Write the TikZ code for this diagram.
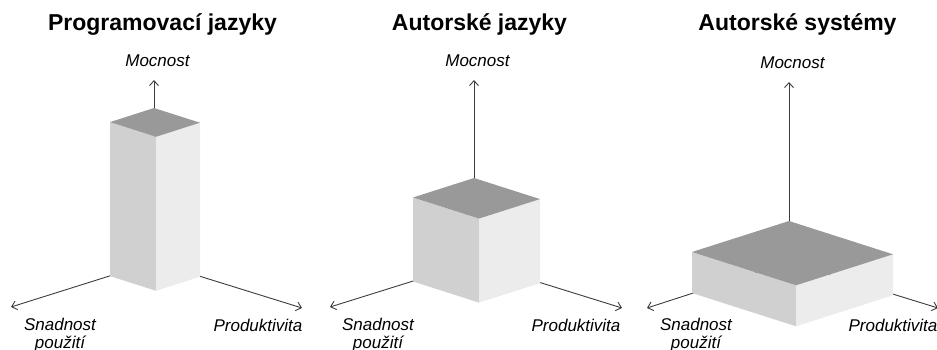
\documentclass[tikz,border=0pt]{standalone}
\usepackage{fontspec}
\setmainfont{Liberation Sans}
\usepackage{tikz}
\usetikzlibrary{arrows.meta,positioning}
\usepackage{xcolor}
\definecolor{AxisGray}{RGB}{60,60,60}
\definecolor{TopGray}{RGB}{153,153,153}
\definecolor{SideGray}{RGB}{208,208,208}
\definecolor{FrontGray}{RGB}{236,236,236}
\tikzset{
  axisline/.style={draw=AxisGray, line width=0.9pt,
    -{Straight Barb[length=5pt,width=9pt]}},
  topface/.style={fill=TopGray},
  leftface/.style={fill=SideGray},
  rightface/.style={fill=FrontGray},
  title/.style={font=\fontsize{23}{27}\selectfont\bfseries, anchor=base,
    inner sep=0pt},
  axislabel/.style={font=\fontsize{17}{18}\selectfont\itshape, align=center,
    anchor=base, inner sep=0pt}
}

\begin{document}
\begin{tikzpicture}[x=1pt,y=-1pt]
  \useasboundingbox (0,0) rectangle (937,350);

  \node[title] (title1) at (162.5,31) {Programovací jazyky};
  \node[title] (title2) at (479.5,31) {Autorské jazyky};
  \node[title] (title3) at (797.5,31) {Autorské systémy};

  \coordinate (o1) at (154,262);
  \coordinate (m1) at (154,80);
  \coordinate (s1) at (11,307);
  \coordinate (p1) at (302,308);
  \coordinate (t1) at (154,108);
  \draw[axisline] (o1) -- (m1);
  \draw[axisline] (o1) -- (s1);
  \draw[axisline] (o1) -- (p1);
  \fill[leftface] (t1) ++(-44,14.1) -- ++(46,14.7) -- ++(0,154) -- ++(-46,-14.7) -- cycle;
  \fill[rightface] (t1) ++(46,14.7) -- ++(-44,14.1) -- ++(0,154) -- ++(44,-14.1) -- cycle;
  \fill[topface] (t1) -- ++(-44,14.1) -- ++(46,14.7) -- ++(44,-14.1) -- cycle;
  \node[axislabel, above=13pt of m1, xshift=3.5pt] (moc1) {Mocnost};
  \node[axislabel] (snad1) at (60,348) {Snadnost\\použití};
  \node[axislabel] (prod1) at (258,331) {Produktivita};

  \coordinate (o2) at (474,262);
  \coordinate (m2) at (474,80);
  \coordinate (s2) at (330,307);
  \coordinate (p2) at (622,308);
  \coordinate (t2) at (474,178);
  \draw[axisline] (o2) -- (m2);
  \draw[axisline] (o2) -- (s2);
  \draw[axisline] (o2) -- (p2);
  \fill[leftface] (t2) ++(-61,19.5) -- ++(66,21.1) -- ++(0,84) -- ++(-66,-21.1) -- cycle;
  \fill[rightface] (t2) ++(66,21.1) -- ++(-61,19.5) -- ++(0,84) -- ++(61,-19.5) -- cycle;
  \fill[topface] (t2) -- ++(-61,19.5) -- ++(66,21.1) -- ++(61,-19.5) -- cycle;
  \node[axislabel, above=13pt of m2, xshift=3.5pt] (moc2) {Mocnost};
  \node[axislabel] (snad2) at (378,348) {Snadnost\\použití};
  \node[axislabel] (prod2) at (576,331) {Produktivita};

  \coordinate (o3) at (789,262);
  \coordinate (m3) at (789,82);
  \coordinate (s3) at (647,308);
  \coordinate (p3) at (938,308);
  \coordinate (t3) at (789,221);
  \draw[axisline] (o3) -- (m3);
  \draw[axisline] (o3) -- (s3);
  \draw[axisline] (o3) -- (p3);
  \fill[leftface] (t3) ++(-97,31) -- ++(104,33.3) -- ++(0,41) -- ++(-104,-33.3) -- cycle;
  \fill[rightface] (t3) ++(104,33.3) -- ++(-97,31) -- ++(0,41) -- ++(97,-31) -- cycle;
  \fill[topface] (t3) -- ++(-97,31) -- ++(104,33.3) -- ++(97,-31) -- cycle;
  \node[axislabel, above=13pt of m3, xshift=3.5pt] (moc3) {Mocnost};
  \node[axislabel] (snad3) at (696,348) {Snadnost\\použití};
  \node[axislabel] (prod3) at (893,331) {Produktivita};
\end{tikzpicture}
\end{document}
